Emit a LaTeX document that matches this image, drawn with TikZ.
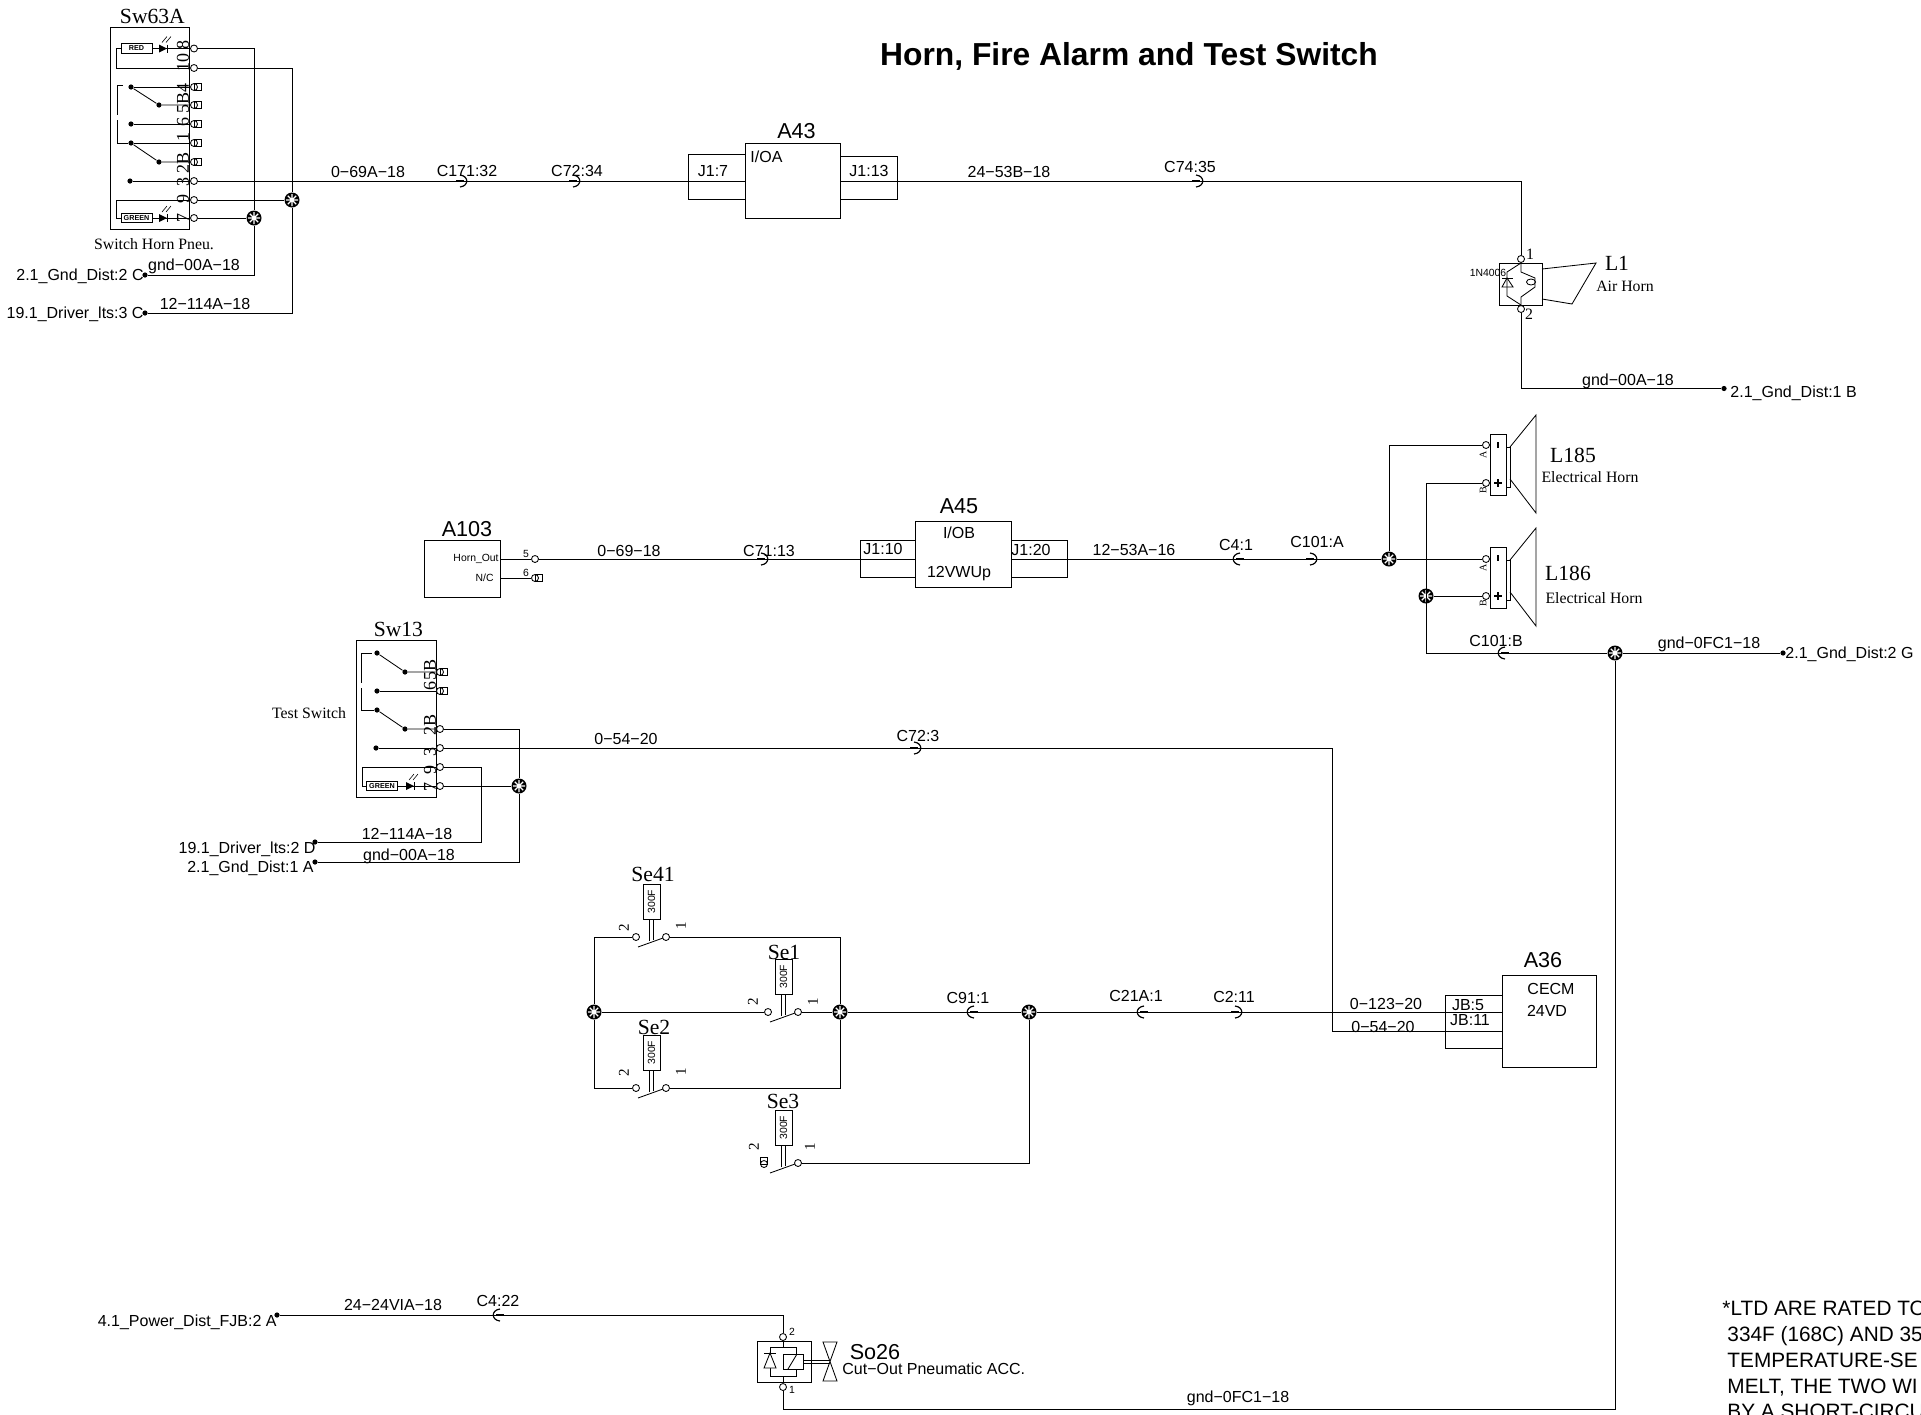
\documentclass[tikz,border=0pt]{standalone}
\usepackage{fontspec}
\setmainfont{Liberation Sans}
\newfontfamily\serifface{Liberation Serif}
\usetikzlibrary{positioning}
\tikzstyle{wirelabel} = [font=\fontsize{8}{9}\selectfont, inner sep=0pt]
\tikzstyle{refname} = [font=\fontsize{10.8}{12}\selectfont, inner sep=0pt]
\tikzstyle{serifname} = [font=\serifface\fontsize{10.8}{12}\selectfont, inner sep=0pt]
\tikzstyle{serifnote} = [font=\serifface\fontsize{7.9}{9}\selectfont, inner sep=0pt]
\tikzstyle{pinlabel} = [font=\serifface\fontsize{9}{9}\selectfont, inner sep=0pt, rotate=90]
\tikzstyle{tinylabel} = [font=\fontsize{5.2}{6}\selectfont, inner sep=0pt]
\tikzstyle{seclabel} = [font=\serifface\fontsize{7.5}{8}\selectfont, inner sep=0pt, rotate=90]
\tikzstyle{block} = [rectangle, draw, inner sep=0pt]
\tikzstyle{term} = [circle, draw, fill=white, inner sep=0pt, minimum size=3.5pt]
\tikzstyle{blob} = [circle, fill=black, inner sep=0pt, minimum size=2.6pt]
\tikzstyle{lamp} = [rectangle, draw, inner sep=0pt, minimum width=15.5pt, minimum height=4.8pt, font=\bfseries\fontsize{3.6}{4}\selectfont]
\tikzstyle{junction} = [circle, fill=black, inner sep=0pt, minimum size=7.5pt, path picture={
   \draw[white, line width=.6pt] (path picture bounding box.center) +(-3pt,0) -- +(3pt,0) +(0,-3pt) -- +(0,3pt)
   +(-2.1pt,-2.1pt) -- +(2.1pt,2.1pt) +(-2.1pt,2.1pt) -- +(2.1pt,-2.1pt);}]
\tikzset{
  hookr/.pic={\draw[line width=1.2pt] (-7,0) -- (1,0); \draw[line width=.6pt] (-3,-6) .. controls (6,-5) and (6,5) .. (-3,6);},
  hookl/.pic={\draw[line width=1.2pt] (7,0) -- (-1,0); \draw[line width=.6pt] (3,-6) .. controls (-6,-5) and (-6,5) .. (3,6);},
  ledsym/.pic={\fill (0,-4) -- (0,4) -- (8,0) -- cycle; \draw (8,-4) -- (8,4);
    \draw[line width=.3pt] (3,-6) -- (8,-12) (7,-6) -- (12,-12);},
  pinbox/.pic={\draw (0,-3.5) rectangle (7,3.5);},
  tempsw/.pic={\draw (-8,-53) rectangle (9,-18); \draw (-2,-18) -- (-2,4) (2,-18) -- (2,3);
    \draw (-13,10) -- (12,1);
    \node (rate) [tinylabel, rotate=90] at (0.5,-35.5) {300F};},
  hornsym/.pic={\draw (0,0) rectangle (16,61); \draw (16,13) rectangle (20,53);
    \draw (20,13) -- (46,-19) -- (46,79) -- (20,45);
    \draw[line width=1.2pt] (8,8) -- (8,14);
    \draw[line width=.6pt] (4,49) -- (12,49) (8,45) -- (8,53);
    \node (pina) [tinylabel, font=\serifface\fontsize{5}{5}\selectfont, rotate=90] at (-7,21) {A};
    \node (pinb) [tinylabel, font=\serifface\fontsize{5}{5}\selectfont, rotate=90] at (-7,56) {B};}
}
\begin{document}
\begin{tikzpicture}[x=0.5pt,y=-0.5pt,line width=.42pt]
\useasboundingbox (0,0) rectangle (1921,1414);

\node (title) [font=\bfseries\fontsize{15.9}{18}\selectfont, inner sep=0pt] at (1129,56.5) {Horn, Fire Alarm and Test Switch};

\node (sw63) [block, minimum width=39.5pt, minimum height=101pt] at (150,128) {};
\node (sw63name) [serifname, above=1pt of sw63, xshift=1.2pt] {Sw63A};
\node (sw63note) [serifnote] at (154,244) {Switch Horn Pneu.};
\node (sat8) [term] at (194,48.5) {};
\node (sat10) [term] at (194,68) {};
\node (sat4) [term] at (194,87) {};
\node (sat5) [term] at (194,105) {};
\node (sat6) [term] at (194,124) {};
\node (sat1) [term] at (194,143) {};
\node (sat2) [term] at (194,162) {};
\node (sat3) [term] at (194,181) {};
\node (sat9) [term] at (194,200) {};
\node (sat7) [term] at (194,218) {};
\pic at (sat4) {pinbox};
\pic at (sat5) {pinbox};
\pic at (sat6) {pinbox};
\pic at (sat1) {pinbox};
\pic at (sat2) {pinbox};
\node (pa8) [pinlabel] at (183,45) {8};
\node (pa10) [pinlabel] at (183,62) {10};
\node (pa4) [pinlabel] at (183,88) {4};
\node (pa5) [pinlabel] at (183,103) {5B};
\node (pa6) [pinlabel] at (183,122) {6};
\node (pa1) [pinlabel] at (183,137) {1};
\node (pa2) [pinlabel] at (183,163) {2B};
\node (pa3) [pinlabel] at (183,182) {3};
\node (pa9) [pinlabel] at (183,199) {9};
\node (pa7) [pinlabel] at (183,218) {7};
\node (rbox) [lamp] at (136.5,48.5) {RED};
\node (gbox) [lamp] at (136.5,218) {GREEN};
\pic at (159,48.5) {ledsym};
\pic at (159,218) {ledsym};
\coordinate (loopa) at (116,48.5);
\coordinate (loopb) at (116,218);
\draw (rbox) -- (sat8);
\draw (sat10) -| (loopa) -- (rbox);
\draw (gbox) -- (sat7);
\draw (sat9) -| (loopb) -- (gbox);
\node (da4) [blob] at (131,87) {};
\node (da5) [blob] at (159,105) {};
\node (da6) [blob] at (131,124) {};
\node (da1) [blob] at (131,143) {};
\node (da2) [blob] at (159,162) {};
\node (da3) [blob] at (130,181) {};
\draw (da4) -- (sat4);
\draw (da4) -- (da5) -- (sat5);
\draw (da6) -- (sat6);
\draw (da1) -- (sat1);
\draw (da1) -- (da2) -- (sat2);
\draw (da3) -- (sat3);
\coordinate (dasha) at (117,85);
\coordinate (dashb) at (117,143);
\coordinate (dashc) at (123,85);
\draw (dashc) -- (dasha);
\draw[dash pattern=on 15pt off 2.5pt] (dasha) -- (dashb);
\draw (dashb) -- (da1);

\node (jga) [junction] at (254,218) {};
\node (jla) [junction] at (292,200) {};
\node (dga) [blob] at (145,275) {};
\node (dla) [blob] at (145,313) {};
\node (dgatext) [wirelabel, anchor=east] at (144,276) {2.1\_Gnd\_Dist:2 C};
\node (dlatext) [wirelabel, anchor=east] at (144,314) {19.1\_Driver\_lts:3 C};
\node (gndw) [wirelabel] at (194,266) {gnd−00A−18};
\node (lw) [wirelabel] at (205,304) {12−114A−18};
\draw (sat8) -| (jga);
\draw (sat7) -- (jga);
\draw (dga) -| (jga);
\draw (sat10) -| (jla);
\draw (sat9) -- (jla);
\draw (dla) -| (jla);

\node (a43) [block, minimum width=47.5pt, minimum height=37.5pt] at (792.5,180.5) {};
\node (a43name) [refname, above=1.5pt of a43, xshift=2pt] {A43};
\node (j17) [block, minimum width=28.5pt, minimum height=22.5pt] at (716.5,176.5) {};
\node (j113) [block, minimum width=28.5pt, minimum height=21.5pt] at (868.5,177.5) {};
\node (a43text) [wirelabel, anchor=west] at (750,157) {I/OA};
\node (j17text) [wirelabel] at (713,171) {J1:7};
\node (j113text) [wirelabel] at (869,171) {J1:13};
\node (wa) [wirelabel] at (368,172) {0−69A−18};
\node (wb) [wirelabel] at (467,171) {C171:32};
\node (wc) [wirelabel] at (577,171) {C72:34};
\node (wd) [wirelabel] at (1009,172) {24−53B−18};
\node (we) [wirelabel] at (1190,167) {C74:35};
\draw (sat3) -- (sat3 -| a43.west);
\pic at (463,181) {hookr};
\pic at (576,181) {hookr};
\pic at (1199,181) {hookr};

\node (l1box) [block, minimum width=21.5pt, minimum height=21pt] at (1520.5,284) {};
\node (l1t1) [term] at (1521,259) {};
\node (l1t2) [term] at (1521,309) {};
\node (l1n1) [serifnote] at (1530,254) {1};
\node (l1n2) [serifnote] at (1529,314) {2};
\node (l1diode) [tinylabel] at (1488,273) {1N4006};
\node (l1name) [serifname] at (1617,263) {L1};
\node (l1note) [serifnote] at (1625,286) {Air Horn};
\draw (1521,263) -- (1507,272) -- (1507,296) -- (1521,305);
\draw (1502,287) -- (1513,287) -- (1507,278) -- cycle;
\draw (1502,278) -- (1513,278);
\draw (1521,263) -- (1521,272) -- (1535,278) -- (1535,287) -- (1521,297) -- (1521,305);
\draw (1531,282) ellipse (4.5 and 3);
\draw (1542,269) -- (1596,263) -- (1572,304) -- (1542,299);
\node (dlb) [blob] at (1724,388.5) {};
\node (dlbtext) [wirelabel, anchor=west] at (1730,393.5) {2.1\_Gnd\_Dist:1 B};
\node (wf) [wirelabel] at (1628,381.5) {gnd−00A−18};
\draw (sat3 -| a43.east) -| (l1t1);
\draw (l1t2) |- (dlb);

\node (a103) [block, minimum width=38pt, minimum height=28.5pt] at (462,568.5) {};
\node (a103name) [refname, above=1.2pt of a103, xshift=2.5pt] {A103};
\node (a103a) [tinylabel, anchor=east] at (499,559) {Horn\_Out};
\node (a103b) [tinylabel, anchor=east] at (494,578) {N/C};
\node (a103t5) [term] at (535,559) {};
\node (a103t6) [term] at (535,578) {};
\pic at (a103t6) {pinbox};
\node (a103n5) [tinylabel] at (526,554) {5};
\node (a103n6) [tinylabel] at (526,573) {6};
\draw (a103t5 -| a103.east) -- (a103t5);
\draw (a103t6 -| a103.east) -- (a103t6);

\node (a45) [block, minimum width=48pt, minimum height=33pt] at (963,554) {};
\node (a45name) [refname, above=3pt of a45, xshift=-2pt] {A45};
\node (j110) [block, minimum width=27.5pt, minimum height=18.5pt] at (887.5,558.5) {};
\node (j120) [block, minimum width=28pt, minimum height=18.5pt] at (1039,558.5) {};
\node (a45a) [wirelabel] at (959,533) {I/OB};
\node (a45b) [wirelabel] at (959,574) {12VWUp};
\node (j110text) [wirelabel] at (883,549) {J1:10};
\node (j120text) [wirelabel] at (1031,550) {J1:20};
\node (wg) [wirelabel] at (629,551) {0−69−18};
\node (wh) [wirelabel] at (769,551) {C71:13};
\node (wi) [wirelabel] at (1134,550) {12−53A−16};
\node (wj) [wirelabel] at (1236,545) {C4:1};
\node (wk) [wirelabel] at (1317,542) {C101:A};
\draw (a103t5) -- (a103t5 -| a45.west);
\pic at (764,559) {hookr};
\pic at (1237,559) {hookl};
\pic at (1313,559) {hookr};

\pic at (1490,434) {hornsym};
\pic at (1490,547) {hornsym};
\node (l185name) [serifname] at (1573,455) {L185};
\node (l185note) [serifnote] at (1590,477) {Electrical Horn};
\node (l186name) [serifname] at (1568,573) {L186};
\node (l186note) [serifnote] at (1594,598) {Electrical Horn};
\node (hat) [term] at (1486,445) {};
\node (hbt) [term] at (1486,483) {};
\node (hct) [term] at (1486,559) {};
\node (hdt) [term] at (1486,596) {};
\node (jha) [junction] at (1389,559) {};
\node (jhb) [junction] at (1426,596) {};
\node (jgf) [junction] at (1615,653) {};
\coordinate (bendh) at (1426,653);
\node (dgg) [blob] at (1783,653) {};
\node (dggtext) [wirelabel, anchor=west] at (1785,654.5) {2.1\_Gnd\_Dist:2 G};
\node (wl) [wirelabel] at (1496,641) {C101:B};
\node (wm) [wirelabel] at (1709,644) {gnd−0FC1−18};
\draw (a103t5 -| a45.east) -- (jha);
\draw (jha) |- (hat);
\draw (jha) -- (hct);
\draw (hbt) -| (bendh);
\draw (jhb) -- (hdt);
\draw (bendh) -- (jgf);
\draw (jgf) -- (dgg);
\pic at (1502,653) {hookl};

\node (sw13) [block, minimum width=40pt, minimum height=78.5pt] at (396,718.5) {};
\node (sw13name) [serifname, above=1pt of sw13, xshift=1.2pt] {Sw13};
\node (sw13note) [serifnote] at (309,713) {Test Switch};
\node (sbt5) [term] at (440,672) {};
\node (sbt6) [term] at (440,691) {};
\node (sbt2) [term] at (440,729) {};
\node (sbt3) [term] at (440,748) {};
\node (sbt9) [term] at (440,767) {};
\node (sbt7) [term] at (440,786) {};
\pic at (sbt5) {pinbox};
\pic at (sbt6) {pinbox};
\node (pb5) [pinlabel] at (430,670) {5B};
\node (pb6) [pinlabel] at (430,686) {6};
\node (pb2) [pinlabel] at (430,725) {2B};
\node (pb3) [pinlabel] at (430,752) {3};
\node (pb9) [pinlabel] at (430,770) {9};
\node (pb7) [pinlabel] at (430,787) {7};
\node (dbo) [blob] at (377,653) {};
\node (db5) [blob] at (405,672) {};
\node (db6) [blob] at (377,691) {};
\node (dbx) [blob] at (377,710) {};
\node (db2) [blob] at (405,729) {};
\node (db3) [blob] at (376,748) {};
\draw (dbo) -- (db5) -- (sbt5);
\draw (db6) -- (sbt6);
\draw (dbx) -- (db2) -- (sbt2);
\draw (db3) -- (sbt3);
\coordinate (dashd) at (361,653);
\coordinate (dashe) at (361,710);
\coordinate (dashf) at (372,653);
\draw (dashd) -- (dashf);
\draw[dash pattern=on 15pt off 2.5pt] (dashd) -- (dashe);
\draw (dashe) -- (dbx);
\node (hbox) [lamp] at (382,786) {GREEN};
\pic at (406,786) {ledsym};
\coordinate (loopc) at (362,786);
\draw (hbox) -- (sbt7);
\draw (sbt9) -| (loopc) -- (hbox);
\node (jgb) [junction] at (519,786) {};
\node (dlc) [blob] at (315,842) {};
\node (dgc) [blob] at (315,862) {};
\node (dlctext) [wirelabel, anchor=east] at (316,849.5) {19.1\_Driver\_lts:2 D};
\node (dgctext) [wirelabel, anchor=east] at (314,868.5) {2.1\_Gnd\_Dist:1 A};
\node (wn) [wirelabel] at (407,834) {12−114A−18};
\node (wo) [wirelabel] at (409,856) {gnd−00A−18};
\node (wp) [wirelabel] at (626,739) {0−54−20};
\node (wq) [wirelabel] at (918,736) {C72:3};
\draw (sbt2) -| (jgb);
\draw (sbt7) -- (jgb);
\draw (dgc) -| (jgb);
\coordinate (bendl) at (481,842);
\draw (sbt9) -| (bendl) -- (dlc);
\coordinate (bendc) at (1332,1031);

\node (a36) [block, minimum width=47pt, minimum height=46pt] at (1549,1021) {};
\node (a36name) [refname, above=3pt of a36, xshift=-3pt] {A36};
\node (jb) [block, minimum width=28.5pt, minimum height=26.5pt] at (1473.5,1021.5) {};
\node (a36a) [wirelabel] at (1551,989) {CECM};
\node (a36b) [wirelabel] at (1547,1011) {24VD};
\node (jba) [wirelabel] at (1468,1005) {JB:5};
\node (jbb) [wirelabel] at (1470,1020) {JB:11};
\node (wr) [wirelabel] at (1386,1004) {0−123−20};
\node (ws) [wirelabel] at (1383,1027) {0−54−20};
\draw (sbt3) -| (bendc) -- (bendc -| a36.west);
\pic at (917,748) {hookr};

\pic at (651,937) {tempsw};
\pic at (783,1012) {tempsw};
\pic at (651,1088) {tempsw};
\pic at (783,1163) {tempsw};
\node (se41) [serifname] at (653,874) {Se41};
\node (se1) [serifname] at (784,952) {Se1};
\node (se2) [serifname] at (654,1027) {Se2};
\node (se3) [serifname] at (783,1101) {Se3};
\node (s41t2) [term] at (636,937) {};
\node (s41t1) [term] at (666,937) {};
\node (s1t2) [term] at (768,1012) {};
\node (s1t1) [term] at (798,1012) {};
\node (s2t2) [term] at (636,1088) {};
\node (s2t1) [term] at (666,1088) {};
\node (s3t2) [term] at (764,1164) {};
\node (s3t1) [term] at (798,1163) {};
\pic[rotate=90] at (s3t2) {pinbox};
\node (n41b) [seclabel] at (624,928) {2};
\node (n41a) [seclabel] at (681,926) {1};
\node (n1b) [seclabel] at (753,1002) {2};
\node (n1a) [seclabel] at (813,1002) {1};
\node (n2b) [seclabel] at (624,1073) {2};
\node (n2a) [seclabel] at (681,1072) {1};
\node (n3b) [seclabel] at (754,1147) {2};
\node (n3a) [seclabel] at (810,1147) {1};
\node (jsl) [junction] at (594,1012) {};
\node (jsr) [junction] at (840,1012) {};
\node (jsm) [junction] at (1029,1012) {};
\draw (jsl) |- (s41t2);
\draw (jsl) |- (s2t2);
\draw (jsr) |- (s41t1);
\draw (jsr) |- (s2t1);
\draw (jsl) -- (s1t2);
\draw (s1t1) -- (jsr);
\draw (jsr) -- (jsm);
\draw (s3t1) -| (jsm);
\draw (jsm) -- (jsm -| a36.west);
\node (wt) [wirelabel] at (968,998) {C91:1};
\node (wu) [wirelabel] at (1136,996) {C21A:1};
\node (wv) [wirelabel] at (1234,997) {C2:11};
\pic at (971,1012) {hookl};
\pic at (1141,1012) {hookl};
\pic at (1238,1012) {hookr};

\node (so26) [block, minimum width=27pt, minimum height=20.5pt] at (784,1361.5) {};
\node (so26name) [refname] at (875,1352) {So26};
\node (so26note) [wirelabel, anchor=west] at (842,1369) {Cut−Out Pneumatic ACC.};
\node (sot2) [term] at (783,1337) {};
\node (sot1) [term] at (783,1387) {};
\node (son2) [tinylabel] at (792,1332) {2};
\node (son1) [tinylabel] at (792,1390) {1};
\node (coil) [block, minimum width=10pt, minimum height=7.5pt] at (793,1361.5) {};
\draw (788,1369) -- (797,1354);
\draw (783,1341) -- (783,1347);
\draw (783,1376) -- (783,1382);
\draw (796,1354) -- (796,1347) -- (770,1347) -- (770,1376) -- (796,1376) -- (796,1369);
\draw[fill=white] (764,1368) -- (776,1368) -- (770,1353) -- cycle;
\draw (764,1353) -- (776,1353);
\draw (coil.east |- 803,1360) -- (830,1360);
\draw (coil.east |- 803,1363) -- (830,1363);
\draw (823,1342) -- (837,1342) -- (823,1381) -- (837,1381) -- cycle;
\coordinate (bendp) at (783,1315);
\node (dpw) [blob] at (277,1315) {};
\node (dpwtext) [wirelabel, anchor=east] at (277,1322) {4.1\_Power\_Dist\_FJB:2 A};
\node (ww) [wirelabel] at (393,1305) {24−24VIA−18};
\node (wx) [wirelabel] at (498,1301) {C4:22};
\node (wy) [wirelabel] at (1238,1398) {gnd−0FC1−18};
\coordinate (bendq) at (783,1409);
\draw (dpw) -- (bendp) -- (sot2);
\draw (sot1) -- (bendq) -| (jgf);
\pic at (497,1315) {hookl};

\node (ltdnote) [font=\fontsize{10.4}{12.85}\selectfont, inner sep=0pt, anchor=north west, align=left] at (1722,1301)
{*LTD ARE RATED TO\\ \hspace{2.5pt}334F (168C) AND 35\\ \hspace{2.5pt}TEMPERATURE-SE\\ \hspace{2.5pt}MELT, THE TWO WI\\ \hspace{2.5pt}BY A SHORT-CIRCU};
\end{tikzpicture}
\end{document}
